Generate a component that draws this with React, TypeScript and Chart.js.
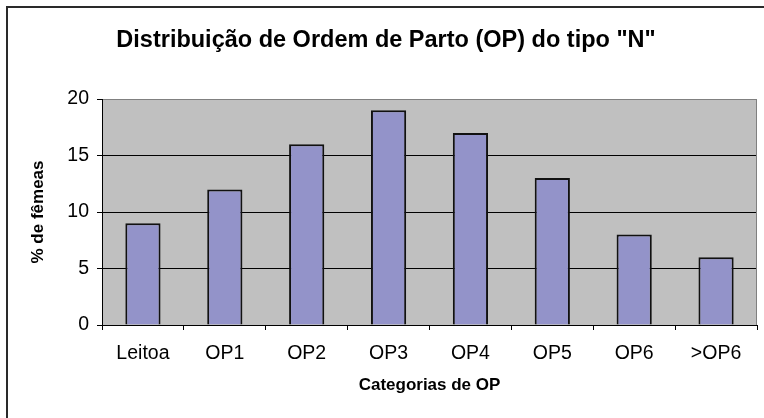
import React, { useEffect, useRef } from "react";
import { Chart, registerables } from "chart.js";

Chart.register(...registerables);

const categories = ["Leitoa", "OP1", "OP2", "OP3", "OP4", "OP5", "OP6", ">OP6"];
const values = [9, 12, 16, 19, 17, 13, 8, 6];
const yTicks = [0, 5, 10, 15, 20];

const FONT = "'Liberation Sans', Arial, sans-serif";

const framePlugin = {
  id: "framePlugin",
  beforeDraw(chart: any) {
    const { ctx, chartArea } = chart;
    ctx.save();
    ctx.fillStyle = "#ffffff";
    ctx.fillRect(0, 0, chart.width, chart.height);
    // outer frame (left + top visible)
    ctx.fillStyle = "#2a2a2a";
    ctx.fillRect(6, 6, 2, chart.height - 6);
    ctx.fillRect(6, 6, chart.width - 6, 2);
    ctx.fillStyle = "#C0C0C0";
    ctx.fillRect(chartArea.left, chartArea.top, chartArea.right - chartArea.left, chartArea.bottom - chartArea.top);
    ctx.restore();
  },
  beforeDatasetsDraw(chart: any) {
    const { ctx, chartArea } = chart;
    ctx.save();
    ctx.strokeStyle = "#808080";
    ctx.lineWidth = 1;
    ctx.beginPath();
    ctx.moveTo(chartArea.right - 0.5, chartArea.top);
    ctx.lineTo(chartArea.right - 0.5, chartArea.bottom);
    ctx.stroke();
    ctx.restore();
  },
};

export default function App() {
  const ref = useRef<HTMLCanvasElement>(null);

  useEffect(() => {
    if (!ref.current) return;
    const chart = new Chart(ref.current, {
      type: "bar",
      data: {
        labels: categories,
        datasets: [
          {
            data: values,
            backgroundColor: "#9393C9",
            borderColor: "#111111",
            borderWidth: 2,
            categoryPercentage: 1,
            barPercentage: 0.43,
          },
        ],
      },
      options: {
        animation: false,
        responsive: false,
        devicePixelRatio: 1,
        layout: { padding: { left: 15, right: 7, top: 0, bottom: 0 } },
        plugins: {
          legend: { display: false },
          tooltip: { enabled: false },
          title: {
            display: true,
            text: 'Distribuição de Ordem de Parto (OP) do tipo "N"',
            color: "#000",
            font: { family: FONT, size: 23.5, weight: "bold", lineHeight: 1.2 },
            padding: { top: 26, bottom: 44.8 },
          },
        },
        scales: {
          x: {
            afterFit: (s: any) => {
              s.height = 93;
            },
            grid: {
              offset: true,
              drawOnChartArea: false,
              drawTicks: true,
              tickLength: 5,
              tickColor: "#000",
            },
            border: { color: "#000", width: 1 },
            ticks: {
              color: "#000",
              padding: 12,
              font: { family: FONT, size: 19.5 },
              maxRotation: 0,
              autoSkip: false,
            },
            title: {
              display: true,
              text: "Categorias de OP",
              color: "#000",
              font: { family: FONT, size: 17, weight: "bold", lineHeight: 1.2 },
              padding: { top: 0, bottom: 22 },
            },
          },
          y: {
            min: yTicks[0],
            max: yTicks[yTicks.length - 1],
            afterFit: (s: any) => {
              s.width = 87;
            },
            afterBuildTicks: (s: any) => {
              s.ticks = yTicks.map((v) => ({ value: v }));
            },
            grid: {
              drawTicks: true,
              tickLength: 5,
              tickColor: "#000",
              color: (c: any) => (c.tick && c.tick.value === 20 ? "#808080" : "#000"),
            },
            border: { color: "#000", width: 1 },
            ticks: {
              color: "#000",
              padding: 8,
              font: { family: FONT, size: 19.5 },
            },
            title: {
              display: true,
              text: "% de fêmeas",
              color: "#000",
              font: { family: FONT, size: 17, weight: "bold", lineHeight: 1.2 },
              padding: { top: 13, bottom: 0 },
            },
          },
        },
      },
      plugins: [framePlugin],
    } as any);
    return () => chart.destroy();
  }, []);

  return (
    <div style={{ position: "absolute", left: 0, top: 0, width: 764, height: 418 }}>
      <canvas ref={ref} width={764} height={418} style={{ display: "block", width: 764, height: 418 }} />
    </div>
  );
}
